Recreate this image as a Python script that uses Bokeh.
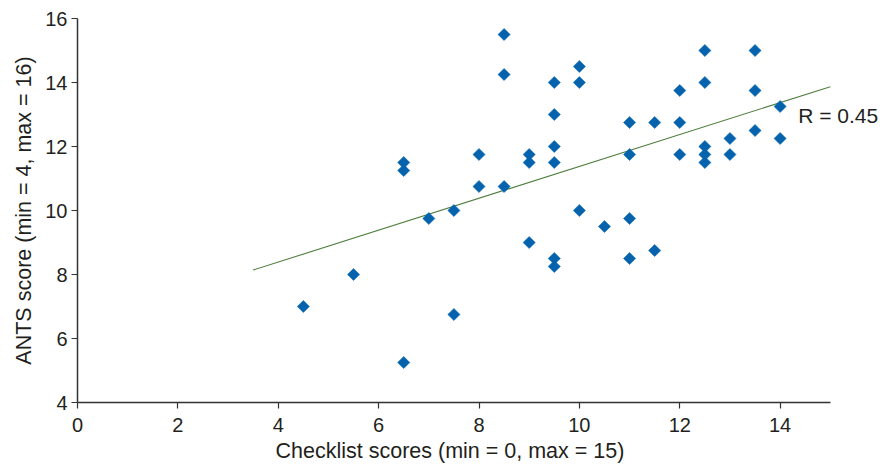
import numpy as np
from bokeh.plotting import figure
from bokeh.models import Range1d, Label, FixedTicker, Title
from bokeh.embed import file_html
from bokeh.resources import INLINE

# Checklist score (x) and ANTS score (y) for each participant
checklist = [4.5, 5.5, 6.5, 6.5, 6.5, 7.0, 7.5, 7.5, 8.0, 8.0,
             8.5, 8.5, 8.5, 9.0, 9.0, 9.0, 9.5, 9.5, 9.5, 9.5,
             9.5, 9.5, 10.0, 10.0, 10.0, 10.5, 11.0, 11.0, 11.0, 11.0,
             11.5, 11.5, 12.0, 12.0, 12.0, 12.5, 12.5, 12.5, 12.5, 12.5,
             13.0, 13.0, 13.5, 13.5, 13.5, 14.0, 14.0]
ants = [7.0, 8.0, 11.5, 11.25, 5.25, 9.75, 10.0, 6.75, 11.75, 10.75,
        15.5, 14.25, 10.75, 11.75, 11.5, 9.0, 14.0, 13.0, 12.0, 11.5,
        8.5, 8.25, 14.5, 14.0, 10.0, 9.5, 12.75, 11.75, 9.75, 8.5,
        12.75, 8.75, 13.75, 12.75, 11.75, 15.0, 14.0, 12.0, 11.75, 11.5,
        12.25, 11.75, 15.0, 13.75, 12.5, 13.25, 12.25]

# regression line end points
fit_x = [3.5, 15.0]
fit_y = [8.14, 13.87]
r_label = "R = 0.45"

x_ticks = [0, 2, 4, 6, 8, 10, 12, 14]
y_ticks = [4, 6, 8, 10, 12, 14, 16]
x_title = "Checklist scores (min = 0, max = 15)"
y_title = "ANTS score (min = 4, max = 16)"

FONT = "Liberation Sans"
TXT = "#231f20"

p = figure(width=880, height=468, output_backend="svg", toolbar_location=None,
           x_range=Range1d(0, 16), y_range=Range1d(4, 16))
p.min_border_left = 77
p.min_border_right = 0
p.min_border_top = 18
p.min_border_bottom = 66
p.outline_line_color = None
p.grid.visible = False
p.background_fill_color = "white"
p.border_fill_color = "white"

p.line(fit_x, fit_y, line_color="#4f7f3f", line_width=1.1)
p.scatter(checklist, ants, marker="square", size=8.6, angle=np.pi / 4,
          fill_color="#0563ae", line_color="#0563ae", line_width=0.5)

p.add_layout(Label(x=14.36, y=12.97, text=r_label, text_font=FONT,
                   text_font_size="21px", text_color=TXT,
                   text_baseline="middle", text_align="left"))

for ax, ticks in [(p.xaxis[0], x_ticks), (p.yaxis[0], y_ticks)]:
    ax.ticker = FixedTicker(ticks=ticks)
    ax.axis_label_text_font = FONT
    ax.axis_label_text_font_style = "normal"
    ax.axis_label_text_font_size = "21.5px"
    ax.axis_label_text_color = TXT
    ax.major_label_text_font = FONT
    ax.major_label_text_font_size = "20px"
    ax.major_label_text_color = TXT
    ax.axis_line_color = "#333333"
    ax.axis_line_width = 1.5
    ax.major_tick_line_color = "#333333"
    ax.major_tick_line_width = 1.2
    ax.major_tick_out = 6
    ax.major_tick_in = 0
    ax.minor_tick_line_color = None
    ax.major_label_standoff = 4
    ax.axis_label_standoff = 6

p.yaxis[0].axis_label = y_title
p.xaxis[0].bounds = (0, 15)
p.xaxis[0].major_label_standoff = 9

# x-axis title, centred under the 0-15 axis line (the frame runs on to hold the R label)
p.add_layout(Title(text=x_title, align="left", offset=198, standoff=4,
                   text_font=FONT, text_font_size="21.5px",
                   text_font_style="normal", text_color=TXT), "below")

open("out.html", "w").write(file_html(p, INLINE))
